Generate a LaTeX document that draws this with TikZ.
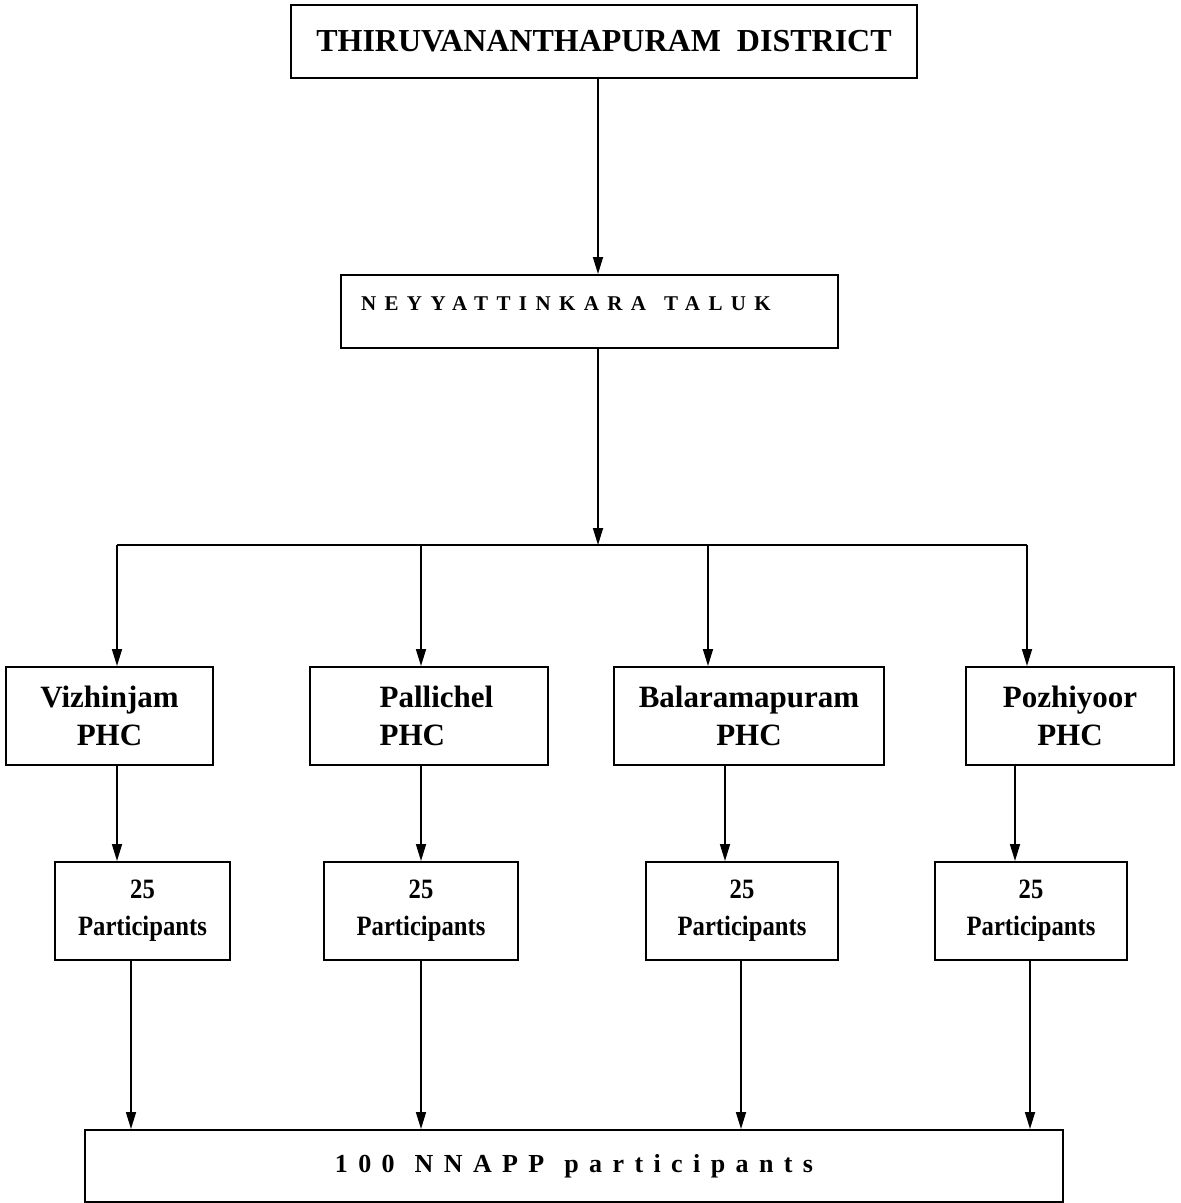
\documentclass[tikz,border=0pt]{standalone}
\usepackage{fontspec}
\setmainfont{Liberation Serif}
\usetikzlibrary{arrows.meta}
\newcommand\phcfont{\bfseries\fontsize{31}{38}\selectfont}
\newcommand\partfont{\bfseries\fontsize{28}{37}\selectfont}
\newcommand\sq[1]{\scalebox{0.88}[1]{#1}}
\begin{document}
\begin{tikzpicture}[x=1pt,y=-1pt,
 box/.style={draw, line width=2pt, inner sep=0pt},
 phc/.style={box, minimum height=98, align=center, font=\phcfont},
 part/.style={box, minimum height=98, align=center, font=\partfont},
 arr/.style={line width=1.7pt, -{Triangle[length=17pt,width=10pt]}},
 ln/.style={line width=1.7pt}]
\useasboundingbox (0,0) rectangle (1181,1203);
\node[box, minimum width=626, minimum height=73, font=\bfseries\fontsize{32}{37}\selectfont] (top) at (604,41.5) {THIRUVANANTHAPURAM\hspace{0.5em}DISTRICT};
\node[box, text width=457, inner xsep=20, inner ysep=5, text height=30, text depth=33, align=left, font=\bfseries\fontsize{21}{25}\selectfont\addfontfeature{LetterSpace=40}] (tal) at (589.5,311.5) {NEYYATTINKARA\hspace{18pt}TALUK};
% PHC boxes
\node[phc, minimum width=207] (v) at (109.5,716) {Vizhinjam\\PHC};
\node[phc, minimum width=238, align=left] (pa) at (429,716) {\hspace*{15pt}Pallichel\\\hspace*{15pt}PHC};
\node[phc, minimum width=270] (ba) at (749,716) {Balaramapuram\\PHC};
\node[phc, minimum width=208] (po) at (1070,716) {Pozhiyoor\\PHC};
% participant boxes
\node[part, minimum width=175] (p1) at (142.5,911) {\sq{25}\\\sq{Participants}};
\node[part, minimum width=194] (p2) at (421,911) {\sq{25}\\\sq{Participants}};
\node[part, minimum width=192] (p3) at (742,911) {\sq{25}\\\sq{Participants}};
\node[part, minimum width=192] (p4) at (1031,911) {\sq{25}\\\sq{Participants}};
% bottom
\node[box, minimum width=978, minimum height=72, font=\bfseries\fontsize{26}{30}\selectfont\addfontfeature{LetterSpace=40}] (all) at (574,1166) {100\hspace{20pt}NNAPP\hspace{20pt}participants};
% connectors
\coordinate (c0) at (598,0);
\draw[arr] (top.south -| c0) -- (tal.north -| c0);
\coordinate (j) at (598,545);
\draw[arr] (tal.south -| j) -- (j);
\coordinate (b1) at (117,545);
\coordinate (b2) at (421,545);
\coordinate (b3) at (708,545);
\coordinate (b4) at (1027,545);
\draw[ln] (b1) -- (b4);
\draw[arr] (b1) -- (v.north -| b1);
\draw[arr] (b2) -- (pa.north -| b2);
\draw[arr] (b3) -- (ba.north -| b3);
\draw[arr] (b4) -- (po.north -| b4);
\coordinate (d1) at (117,0);
\coordinate (d2) at (421,0);
\coordinate (d3) at (725,0);
\coordinate (d4) at (1015,0);
\draw[arr] (v.south -| d1) -- (p1.north -| d1);
\draw[arr] (pa.south -| d2) -- (p2.north -| d2);
\draw[arr] (ba.south -| d3) -- (p3.north -| d3);
\draw[arr] (po.south -| d4) -- (p4.north -| d4);
\coordinate (e1) at (131,0);
\coordinate (e2) at (421,0);
\coordinate (e3) at (741,0);
\coordinate (e4) at (1030,0);
\draw[arr] (p1.south -| e1) -- (all.north -| e1);
\draw[arr] (p2.south -| e2) -- (all.north -| e2);
\draw[arr] (p3.south -| e3) -- (all.north -| e3);
\draw[arr] (p4.south -| e4) -- (all.north -| e4);
\end{tikzpicture}
\end{document}
